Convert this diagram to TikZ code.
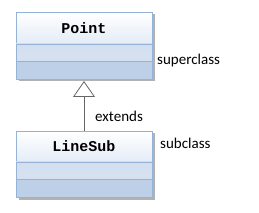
\documentclass[tikz,border=0pt]{standalone}
\usepackage{fontspec}
\setmainfont{Carlito}
\setmonofont{Liberation Mono}
\usepackage{tikz}
\usetikzlibrary{positioning, arrows.meta, calc, backgrounds}
\definecolor{umlline}{HTML}{95B3D7}
\definecolor{umlhead}{HTML}{E4ECF7}
\definecolor{umlmid}{HTML}{D3DFEF}
\definecolor{umllow}{HTML}{BED0E8}
\tikzstyle{classhead} = [rectangle, minimum width=136pt, minimum height=32pt, outer sep=0pt, draw=umlline, top color=white, bottom color=umlhead, font=\ttfamily\bfseries\fontsize{15}{15}\selectfont]
\tikzstyle{classpart} = [rectangle, minimum width=136pt, minimum height=17.5pt, outer sep=0pt, draw=umlline]
\tikzstyle{label} = [font=\fontsize{15}{15}\selectfont, inner sep=0pt]
\tikzstyle{extends} = [thick, draw=black!60, -{Triangle[open, length=16pt, width=22pt]}]

\begin{document}
\begin{tikzpicture}[x=1pt, y=1pt]
        \useasboundingbox (0,0) rectangle (259,-213);
        % superclass
        \node (pointhead) [classhead] at (84,-28) {Point};
        \node (pointattr) [classpart, top color=umlmid, bottom color=umlmid!92!white, below=0pt of pointhead] {};
        \node (pointops) [classpart, fill=umllow, below=0pt of pointattr] {};
        % subclass
        \node (linehead) [classhead, minimum height=31pt] at (84,-146.5) {LineSub};
        \node (lineattr) [classpart, top color=umlmid, bottom color=umlmid!92!white, below=0pt of linehead] {};
        \node (lineops) [classpart, fill=umllow, below=0pt of lineattr] {};

        \begin{scope}[on background layer]
            \fill [black!30] ($(pointhead.north west)+(2.5,-2.5)$) rectangle ($(pointops.south east)+(2.5,-2.5)$);
            \fill [black!30] ($(linehead.north west)+(2.5,-2.5)$) rectangle ($(lineops.south east)+(2.5,-2.5)$);
        \end{scope}

        \draw [extends] (linehead) -- ($(pointops.south)+(0,-2)$);

        \node (superlbl) [label, anchor=west] at ($(pointattr.south east)+(5,1)$) {superclass};
        \node (sublbl) [label, anchor=west] at ($(linehead.east)+(8,3)$) {subclass};
        \node (extlbl) [label, anchor=west] at (95,-116) {extends};
    \end{tikzpicture}
\end{document}
